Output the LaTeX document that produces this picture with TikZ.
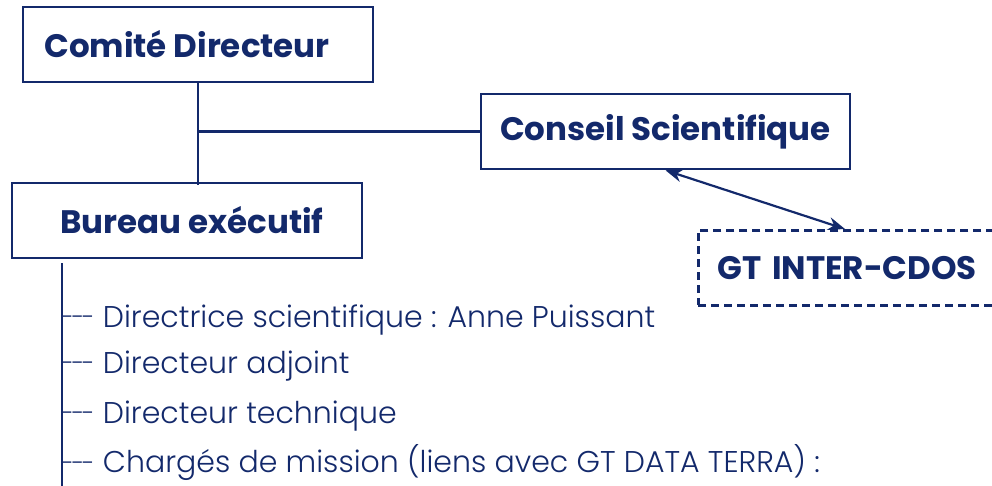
\documentclass[tikz,border=0pt]{standalone}
\usepackage{fontspec}
\setmainfont{Poppins}
\newfontfamily\lightfont{Poppins Light}
\usetikzlibrary{positioning,arrows.meta}
\definecolor{navy}{HTML}{13296B}
\newcommand{\dashlead}{\kern-2pt\raisebox{1.7pt}{\fontsize{24}{28}\selectfont-\kern-2pt-\kern-2pt-}\ }

\begin{document}
\begin{tikzpicture}[x=1pt, y=-1pt, line width=2.6pt, draw=navy, text=navy,
  orgbox/.style={draw=navy, line width=2.6pt, rectangle, inner sep=0pt, font=\fontsize{32.5}{38}\selectfont\bfseries},
  member/.style={anchor=west, inner xsep=0pt, font=\lightfont\fontsize{30}{36}\selectfont}]
  \clip (0,0) rectangle (992,486);
  % boxes
  \node[orgbox, minimum width=350pt, minimum height=75pt] (comite) at (198,44.5) {Comité Directeur\hspace*{22pt}};
  \node[orgbox, minimum width=350pt, minimum height=75pt] (bureau) at (187,220.5) {\hspace*{10pt}Bureau exécutif};
  \node[orgbox, minimum width=369pt, minimum height=75pt] (conseil) at (665.5,131.5) {Conseil Scientifique};
  \node[orgbox, dashed, dash pattern=on 8pt off 5pt, anchor=north west, minimum height=75pt,
        text width=300pt, align=left, inner xsep=19pt] (gtinter) at (697,229) {GT INTER-CDOS};
  % members of the bureau
  \coordinate (listtop) at (62,263);
  \coordinate (listend) at (62,486);
  \node[member] (dirsci) at (62,320) {\dashlead Directrice scientifique : Anne Puissant};
  \node[member] (diradj) at (62,366) {\dashlead Directeur adjoint};
  \node[member] (dirtech) at (62,416) {\dashlead Directeur technique};
  \node[member] (charges) at (62,463) {\dashlead Chargés de mission (liens avec GT DATA TERRA) :};
  % links
  \coordinate (junction) at (comite.south |- conseil.west);
  \path[draw=navy, line width=2.6pt]
  (comite.south) edge ([yshift=-3pt]comite.south |- bureau.north)
  (junction) edge (conseil.west)
  (listtop) edge (listend);
  \draw[navy, line width=2.2pt, {Stealth[length=17pt,width=13pt]}-{Stealth[length=17pt,width=13pt]}]
    (conseil.south) -- ([xshift=148pt]gtinter.north west);
\end{tikzpicture}
\end{document}
